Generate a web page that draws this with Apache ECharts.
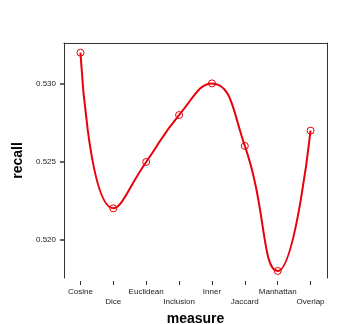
<!DOCTYPE html>
<html>
<head>
<meta charset="utf-8">
<script src="https://cdn.jsdelivr.net/npm/echarts@6/dist/echarts.min.js"></script>
<style>
    html, body { margin: 0; padding: 0; background: #fff; }
    #main { width: 359px; height: 324px; }
</style>
</head>
<body>
<div id="main"></div>
<script>
    var measures = ['Cosine', 'Dice', 'Euclidean', 'Inclusion', 'Inner', 'Jaccard', 'Manhattan', 'Overlap'];
    var recall = [0.53201, 0.52203, 0.52500, 0.52801, 0.53004, 0.52603, 0.51801, 0.52701];
    var yTicks = [0.520, 0.525, 0.530];

    var myChart = echarts.init(document.getElementById('main'));
    var font = 'Liberation Sans, Arial, sans-serif';

    var option = {
        animation: false,
        grid: { left: 64, top: 43, width: 263, height: 235, outerBoundsMode: 'none', containLabel: false },
        xAxis: [{
            type: 'category',
            data: measures,
            boundaryGap: true,
            offset: 3,
            name: 'measure',
            nameLocation: 'middle',
            nameGap: 28,
            nameTextStyle: { fontFamily: font, fontSize: 14, fontWeight: 'bold', color: '#000' },
            axisLine: { show: false },
            axisTick: { show: true, alignWithLabel: true, length: 4, lineStyle: { color: '#333' } },
            axisLabel: {
                interval: 0,
                margin: 6,
                fontFamily: font,
                fontSize: 8,
                lineHeight: 10,
                color: '#222',
                formatter: function (v, i) {
                    return i % 2 ? '\n' + v : v;
                }
            },
            splitLine: { show: false }
        }, {
            type: 'category',
            position: 'top',
            data: measures,
            axisLine: { show: true, lineStyle: { color: '#333', width: 1 } },
            axisTick: { show: false },
            axisLabel: { show: false }
        }],
        yAxis: [{
            type: 'value',
            min: 0.51756,
            max: 0.53263,
            name: 'recall',
            nameLocation: 'middle',
            nameGap: 32,
            nameTextStyle: { fontFamily: font, fontSize: 14, fontWeight: 'bold', color: '#000' },
            axisLine: { show: true, lineStyle: { color: '#333', width: 1 } },
            axisTick: { show: true, length: 4, customValues: yTicks, lineStyle: { color: '#333', width: 1.5 } },
            axisLabel: {
                customValues: yTicks,
                margin: 8,
                fontFamily: font,
                fontSize: 8,
                color: '#222',
                formatter: function (v) { return v.toFixed(3); }
            },
            splitLine: { show: false }
        }, {
            type: 'value',
            position: 'right',
            min: 0.51756,
            max: 0.53263,
            axisLine: { show: true, lineStyle: { color: '#333', width: 1 } },
            axisTick: { show: false },
            axisLabel: { show: false },
            splitLine: { show: false }
        }],
        series: [{
            type: 'line',
            data: recall,
            smooth: 0.5,
            symbol: 'circle',
            symbolSize: 7,
            showAllSymbol: true,
            lineStyle: { color: '#e8000b', width: 2 },
            itemStyle: { color: 'rgba(0,0,0,0)', borderColor: '#e8000b', borderWidth: 1 }
        }]
    };
    myChart.setOption(option);
</script>
</body>
</html>
